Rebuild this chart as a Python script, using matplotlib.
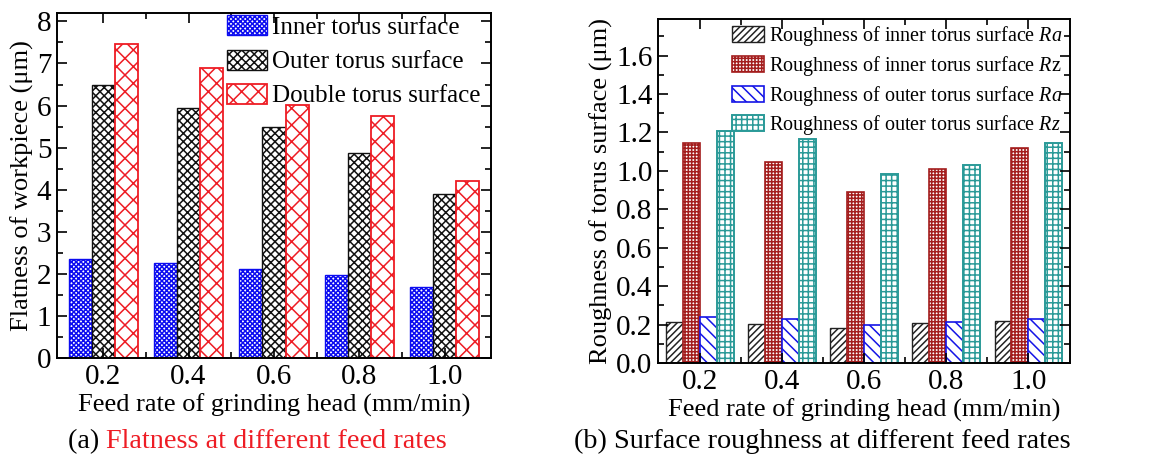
import numpy as np
import matplotlib
matplotlib.use("Agg")
import matplotlib.pyplot as plt
from matplotlib.ticker import MultipleLocator, FixedLocator

plt.rcParams['font.family'] = ['Liberation Serif', 'DejaVu Serif']
plt.rcParams['mathtext.fontset'] = 'custom'
plt.rcParams['mathtext.rm'] = 'Liberation Serif'
plt.rcParams['mathtext.it'] = 'Liberation Serif:italic'
plt.rcParams['hatch.linewidth'] = 1.1

feed_rates = ['0.2', '0.4', '0.6', '0.8', '1.0']

# (a) flatness, um
flat_inner = [2.35, 2.25, 2.11, 1.97, 1.68]
flat_outer = [6.48, 5.93, 5.48, 4.87, 3.90]
flat_double = [7.46, 6.89, 6.02, 5.75, 4.21]

# (b) roughness, um
ra_inner = [0.215, 0.205, 0.182, 0.208, 0.219]
rz_inner = [1.147, 1.048, 0.892, 1.009, 1.118]
ra_outer = [0.240, 0.231, 0.196, 0.213, 0.227]
rz_outer = [1.208, 1.168, 0.984, 1.028, 1.147]

fig = plt.figure(figsize=(11.49, 4.62), dpi=100)
ax1 = fig.add_axes([0.0496, 0.2251, 0.3777, 0.7468])
ax2 = fig.add_axes([0.5727, 0.2143, 0.3586, 0.7446])

x = np.arange(len(feed_rates))


def style_axes(ax, ymaj, ymin):
    for s in ax.spines.values():
        s.set_linewidth(1.4)
    ax.xaxis.set_major_locator(FixedLocator(x))
    ax.xaxis.set_minor_locator(FixedLocator(x[:-1] + 0.5))
    ax.yaxis.set_major_locator(MultipleLocator(ymaj))
    ax.yaxis.set_minor_locator(MultipleLocator(ymin))
    ax.tick_params(which='both', direction='in', top=True, right=True,
                   width=1.2, labelsize=21, pad=4)
    ax.tick_params(which='major', length=7)
    ax.tick_params(which='minor', length=4)
    ax.set_xticklabels(feed_rates)


# ---- (a) flatness ----
w1 = 0.27
ax1.bar(x - w1, flat_inner, w1, facecolor='white', edgecolor='#0c0cf0',
        hatch='xxxxxxx', linewidth=1.0, label='Inner torus surface')
ax1.bar(x, flat_outer, w1, facecolor='white', edgecolor='#111111',
        hatch='xxxx', linewidth=1.0, label='Outer torus surface')
ax1.bar(x + w1, flat_double, w1, facecolor='white', edgecolor='#ee1c24',
        hatch='xx', linewidth=1.3, label='Double torus surface')
ax1.set_xlim(-0.54, 4.54)
ax1.set_ylim(0, 8.2)
style_axes(ax1, 1, 0.5)
ax1.set_yticklabels([f'{v:g}' for v in ax1.get_yticks()])
ax1.set_xlabel('Feed rate of grinding head (mm/min)', fontsize=19, labelpad=3)
ax1.set_ylabel('Flatness of workpiece (μm)', fontsize=19, labelpad=2)
ax1.legend(loc='upper left', bbox_to_anchor=(0.385, 1.0), frameon=False,
           fontsize=18, handlelength=1.6, handleheight=0.85,
           handletextpad=0.2, labelspacing=0.42, borderpad=0.1,
           borderaxespad=0)

# ---- (b) roughness ----
w2 = 0.205
ax2.bar(x - 1.5 * w2, ra_inner, w2, facecolor='white', edgecolor='#222222',
        hatch='/////', linewidth=1.0,
        label=r'Roughness of inner torus surface $\it{Ra}$')
ax2.bar(x - 0.5 * w2, rz_inner, w2, facecolor='white', edgecolor='#a31d1d',
        hatch='+++++', linewidth=1.2,
        label=r'Roughness of inner torus surface $\it{R}$z')
ax2.bar(x + 0.5 * w2, ra_outer, w2, facecolor='white', edgecolor='#1414e6',
        hatch='\\\\\\', linewidth=1.2,
        label=r'Roughness of outer torus surface $\it{Ra}$')
ax2.bar(x + 1.5 * w2, rz_outer, w2, facecolor='white', edgecolor='#2a9a98',
        hatch='+++', linewidth=1.4,
        label=r'Roughness of outer torus surface $\it{Rz}$')
ax2.set_xlim(-0.51, 4.51)
ax2.set_ylim(0, 1.79)
style_axes(ax2, 0.2, 0.1)
ax2.set_yticklabels([f'{v:.1f}' for v in ax2.get_yticks()])
ax2.set_xlabel('Feed rate of grinding head (mm/min)', fontsize=19, labelpad=3)
ax2.set_ylabel('Roughness of torus surface (μm)', fontsize=19, labelpad=2)
ax2.legend(loc='upper left', bbox_to_anchor=(0.175, 0.99), frameon=False,
           fontsize=14.5, handlelength=1.6, handleheight=0.85,
           handletextpad=0.25, labelspacing=0.28, borderpad=0.1,
           borderaxespad=0)

# captions: "(a)" in black, the rest in red right after it
cap_a = fig.text(0.0592, 0.045, '(a) ', fontsize=20.3, ha='left', va='center')
ax1.annotate('Flatness at different feed rates', xy=(1, 0.5),
             xycoords=cap_a, ha='left', va='center', fontsize=20.3,
             color='#ee1c24', annotation_clip=False)
fig.text(0.7154, 0.045, '(b) Surface roughness at different feed rates',
         fontsize=20.3, ha='center', va='center')

fig.savefig('out.png', dpi=100)
